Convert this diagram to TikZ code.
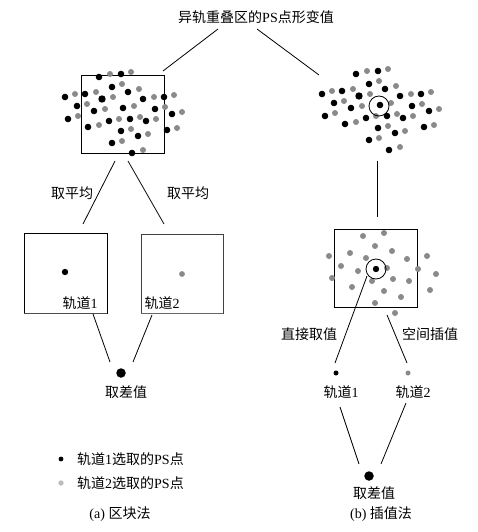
\documentclass[tikz,border=0pt]{standalone}
\usepackage{fontspec}
\setmainfont{Liberation Serif}
\newfontfamily\cjk{Noto Sans CJK SC}
\definecolor{ptgrey}{HTML}{8A8A8A}
\definecolor{lgrey}{HTML}{BDBDBD}
\def\blackdots{99/77,121/74,112/87,65/97,85/94,128/92,143/99,164/97,77/106,94/111,123/108,155/109,172/114,68/119,88/127,109/121,130/119,146/121,167/130,121/131,138/136,112/143,132/153}
\def\greydots{110/74,131/72,122/84,75/94,96/92,113/97,139/89,154/97,174/95,87/104,105/109,134/106,165/107,182/112,78/116,99/125,119/119,140/117,156/119,177/128,131/129,148/134,122/141,143/150}
\def\boxdots{363/236,384/233,375/246,350/253,392/251,329/256,366/258,407/259,427/256,341/266,358/271,387/268,418/269,436/274,332/278,372/281,393/279,409/281,352/287,384/291,430/290,401/297,375/303,395/313}
\begin{document}
\begin{tikzpicture}[x=1pt,y=-1pt,
  lbl/.style={font=\fontsize{14}{16}\selectfont, inner sep=0pt},
  conn/.style={line width=0.8pt},
  frame/.style={draw, line width=0.8pt, inner sep=0pt},
  bdot/.style={circle, fill=black, inner sep=0pt, minimum size=6.4pt},
  gdot/.style={circle, fill=ptgrey, inner sep=0pt, minimum size=5.8pt}]
\useasboundingbox (0,0) rectangle (477,532);

% title
\node[lbl] (title) at (256,17) {{\cjk 异轨重叠区的}PS{\cjk 点形变值}};

% left block
\node[frame, minimum width=83pt, minimum height=78pt] (boxA) at (122.5,114) {};
\foreach \x/\y in \blackdots {\fill[black] (\x,\y) circle (3.3pt);}
\foreach \x/\y in \greydots {\fill[ptgrey] (\x,\y) circle (3pt);}
\fill[black] (102,99) circle (3.7pt);

% right cloud
\begin{scope}[shift={(257,-3)}]
\foreach \x/\y in \blackdots {\fill[black] (\x,\y) circle (3.3pt);}
\foreach \x/\y in \greydots {\fill[ptgrey] (\x,\y) circle (3pt);}
\fill[black] (102,99) circle (3.7pt);
\end{scope}
\node[circle, draw, line width=0.8pt, minimum size=20pt, inner sep=0pt] (ringA) at (379,106) {};

\coordinate (tA) at (218,29); \coordinate (tA2) at (163,71);
\coordinate (tB) at (257,29); \coordinate (tB2) at (319,75);
\draw[conn] (tA) -- (tA2);
\draw[conn] (tB) -- (tB2);

% averaging
\coordinate (a1) at (115,161); \coordinate (a1e) at (83,224);
\coordinate (a2) at (128,161); \coordinate (a2e) at (164,224);
\draw[conn] (a1) -- (a1e);
\draw[conn] (a2) -- (a2e);
\node[lbl] (avg1) at (72,193) {\cjk 取平均};
\node[lbl] (avg2) at (188,193) {\cjk 取平均};

\node[frame, minimum width=83pt, minimum height=80pt] (box1) at (65.5,273) {};
\node[frame, draw=black!75, minimum width=82pt, minimum height=79pt] (box2) at (182,273.5) {};
\draw[line width=1.3pt, black!70] (box1.south west) -- (box1.south east);
\draw[line width=1.3pt, black!60] (box2.south west) -- (box2.south east);
\node[bdot] (d1) at (65,272) {};
\node[gdot] (d2) at (182,274) {};
\node[lbl] (t1) at (80,303) {{\cjk 轨道}1};
\node[lbl] (t2) at (162,303) {{\cjk 轨道}2};

\node[circle, fill=black, inner sep=0pt, minimum size=9.5pt] (diffA) at (121,373) {};
\coordinate (b1) at (93,314); \coordinate (b1e) at (110,362);
\coordinate (b2) at (152,315); \coordinate (b2e) at (133,362);
\draw[conn] (b1) -- (b1e);
\draw[conn] (b2) -- (b2e);
\node[lbl] (diffAl) at (126,392) {\cjk 取差值};

% legend
\fill[black] (61,459) circle (2.4pt);
\fill[lgrey] (61,483) circle (2.7pt);
\node[lbl, anchor=west] (leg1) at (77,459) {{\cjk 轨道}1{\cjk 选取的}PS{\cjk 点}};
\node[lbl, anchor=west] (leg2) at (77,483) {{\cjk 轨道}2{\cjk 选取的}PS{\cjk 点}};
\node[lbl] (capA) at (120,514) {(a) {\cjk 区块法}};

% right: interpolation
\coordinate (v1) at (377,161); \coordinate (v2) at (377,217);
\draw[conn] (v1) -- (v2);
\node[frame, minimum width=83pt, minimum height=78pt] (boxB) at (375.5,268) {};
\foreach \x/\y in \boxdots {\fill[ptgrey] (\x,\y) circle (3pt);}
\node[bdot] (cB) at (376,269) {};
\node[circle, draw, line width=0.8pt, minimum size=20pt, inner sep=0pt] (ringB) at (376,269) {};

\coordinate (c1) at (367,276); \coordinate (c1e) at (335,363);
\coordinate (c2) at (387,315); \coordinate (c2e) at (407,363);
\draw[conn] (c1) -- (c1e);
\draw[conn] (c2) -- (c2e);
\node[lbl] (direct) at (309,334) {\cjk 直接取值};
\node[lbl] (interp) at (430,334) {\cjk 空间插值};

\node[circle, fill=black, inner sep=0pt, minimum size=5pt] (s1) at (336,373) {};
\node[circle, fill=ptgrey, inner sep=0pt, minimum size=5pt] (s2) at (408,373) {};
\node[lbl] (r1) at (341,392) {{\cjk 轨道}1};
\node[lbl] (r2) at (413,392) {{\cjk 轨道}2};

\node[circle, fill=black, inner sep=0pt, minimum size=9.5pt] (diffB) at (369,476) {};
\coordinate (e1) at (340,407); \coordinate (e1e) at (359,464);
\coordinate (e2) at (406,403); \coordinate (e2e) at (381,464);
\draw[conn] (e1) -- (e1e);
\draw[conn] (e2) -- (e2e);
\node[lbl] (diffBl) at (374,493) {\cjk 取差值};
\node[lbl] (capB) at (381,514) {(b) {\cjk 插值法}};
\end{tikzpicture}
\end{document}
